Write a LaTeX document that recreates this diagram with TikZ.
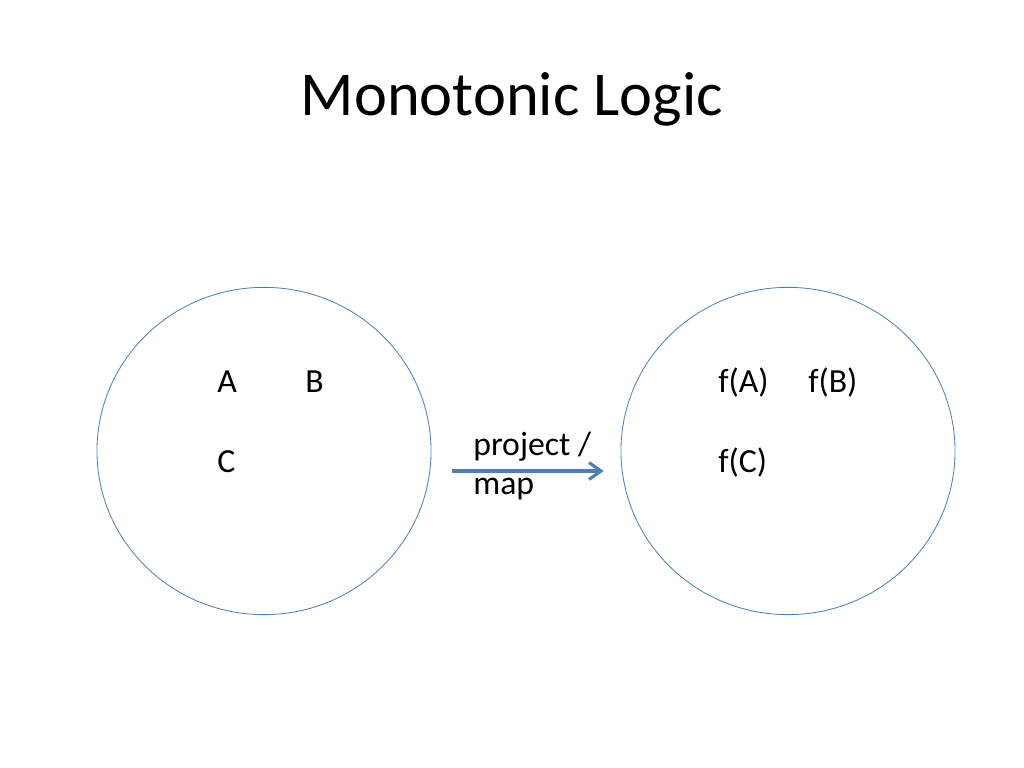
\documentclass[tikz,border=0pt]{standalone}
\usepackage{fontspec}
\setmainfont{Carlito}
\usetikzlibrary{shapes.geometric, positioning, arrows.meta}
\definecolor{setblue}{HTML}{4F81BD}
\definecolor{mapblue}{HTML}{4A7EBB}
\tikzset{
  set/.style={ellipse, draw=setblue, line width=0.6pt, minimum width=8.35cm, minimum height=8.18cm},
  elem/.style={anchor=base west, inner sep=0pt, font=\fontsize{24}{27.7}\selectfont},
  mapsto/.style={draw=mapblue, line width=2.2pt, -{Straight Barb[length=0.3cm, width=0.42cm, line width=2.2pt]}}
}

\begin{document}
\begin{tikzpicture}[x=0.025cm, y=-0.025cm]
\useasboundingbox (0,0) rectangle (1024,768);
\node[anchor=base, font=\fontsize{44.4}{53}\selectfont] (title) at (512,116) {Monotonic Logic};
\node[set] (dom) at (264,451) {};
\node[set] (cod) at (788,451) {};
\node[elem] (a) at (217,392) {A};
\node[elem] (b) at (305,392) {B};
\node[elem] (c) at (217,472) {C};
\node[elem] (fa) at (718,392) {f(A)};
\node[elem] (fb) at (808,392) {f(B)};
\node[elem] (fc) at (718,472) {f(C)};
\node[elem, align=left] (map) at (473,494) {project /\\map};
\draw[mapsto] ([xshift=0.52cm, yshift=-0.5cm]dom.east) -- ([xshift=-0.42cm, yshift=-0.5cm]cod.west);
\end{tikzpicture}
\end{document}
